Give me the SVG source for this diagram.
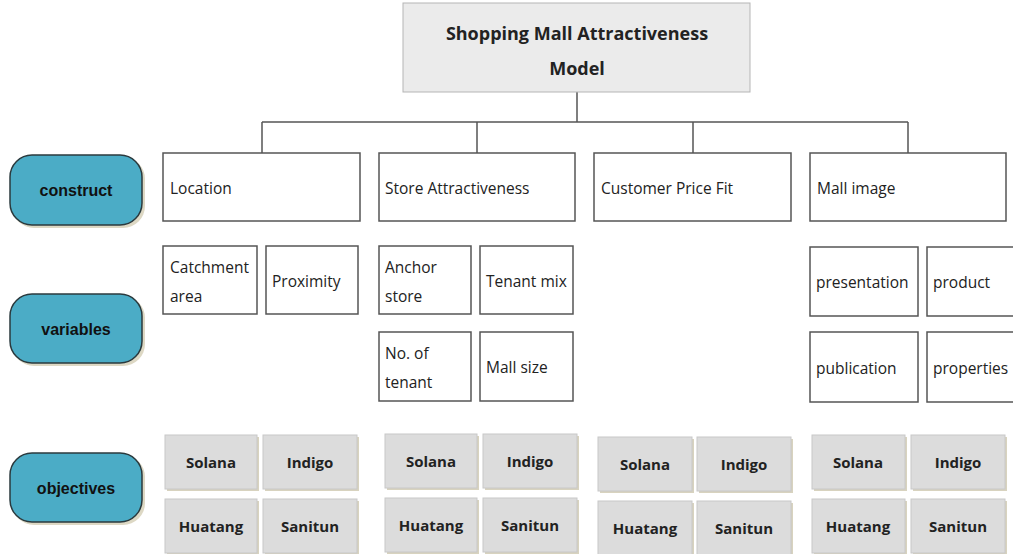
<svg xmlns="http://www.w3.org/2000/svg" width="1013" height="554" viewBox="0 0 1013 554">
<defs>
<style>
.bg{fill:#ffffff}
.box{fill:#ffffff;stroke:#555555;stroke-width:1.5}
.t{font-family:"Open Sans","Noto Sans",sans-serif;font-size:15.5px;fill:#222222}
.title{fill:#ebebeb;stroke:#b5b5b5;stroke-width:1}
.tt{font-family:"Open Sans","Noto Sans",sans-serif;font-size:18px;font-weight:bold;fill:#222222;text-anchor:middle}
.side{fill:#4bacc6;stroke:#2b3a3e;stroke-width:1.5}
.sideshadow{fill:#ddd8c4}
.st{font-family:"Liberation Sans",Arial,sans-serif;font-size:16px;font-weight:bold;fill:#111111;text-anchor:middle}
.obj{fill:#dcdcdc;stroke:#c8c8c8;stroke-width:1}
.objsh{fill:#d8d3bf}
.ot{font-family:"Open Sans","Noto Sans",sans-serif;font-size:15px;font-weight:bold;fill:#222222;text-anchor:middle}
.conn{fill:none;stroke:#555555;stroke-width:1.5}
</style>
</defs>
<rect class="bg" x="0" y="0" width="1013" height="554"/>

<g id="connectors">
<path class="conn" d="M577 92 V122 M262 122 H908 M262 122 V153 M477 122 V153 M693 122 V153 M908 122 V153"/>
</g>

<g id="title">
<rect class="title" x="403" y="3" width="347" height="89"/>
<text class="tt" x="577" y="40">Shopping Mall Attractiveness</text>
<text class="tt" x="577" y="75">Model</text>
</g>

<g id="side-construct">
<rect class="sideshadow" x="12" y="157" width="133" height="71" rx="22"/>
<rect class="side" x="10" y="155" width="132" height="70" rx="22"/>
<text class="st" x="76" y="196">construct</text>
</g>
<g id="side-variables">
<rect class="sideshadow" x="12" y="296" width="133" height="70" rx="22"/>
<rect class="side" x="10" y="294" width="132" height="69" rx="22"/>
<text class="st" x="76" y="335">variables</text>
</g>
<g id="side-objectives">
<rect class="sideshadow" x="12" y="455" width="133" height="70" rx="22"/>
<rect class="side" x="10" y="453" width="132" height="69" rx="22"/>
<text class="st" x="76" y="494">objectives</text>
</g>

<g id="construct-location">
<rect class="box" x="163" y="153" width="197" height="68"/>
<text class="t" x="170" y="194">Location</text>
</g>
<g id="construct-store">
<rect class="box" x="379" y="153" width="196" height="68"/>
<text class="t" x="385" y="194">Store Attractiveness</text>
</g>
<g id="construct-price">
<rect class="box" x="594" y="153" width="197" height="68"/>
<text class="t" x="601" y="194">Customer Price Fit</text>
</g>
<g id="construct-image">
<rect class="box" x="810" y="153" width="196" height="68"/>
<text class="t" x="817" y="194">Mall image</text>
</g>

<g id="var-catchment">
<rect class="box" x="163" y="246" width="94" height="68"/>
<text class="t" x="170" y="273">Catchment</text>
<text class="t" x="170" y="302">area</text>
</g>
<g id="var-proximity">
<rect class="box" x="266" y="246" width="92" height="68"/>
<text class="t" x="272" y="287">Proximity</text>
</g>
<g id="var-anchor">
<rect class="box" x="379" y="246" width="92" height="68"/>
<text class="t" x="385" y="273">Anchor</text>
<text class="t" x="385" y="302">store</text>
</g>
<g id="var-tenantmix">
<rect class="box" x="480" y="246" width="93" height="68"/>
<text class="t" x="486" y="287">Tenant mix</text>
</g>
<g id="var-notenant">
<rect class="box" x="379" y="332" width="92" height="69"/>
<text class="t" x="385" y="359">No. of</text>
<text class="t" x="385" y="388">tenant</text>
</g>
<g id="var-mallsize">
<rect class="box" x="480" y="332" width="93" height="69"/>
<text class="t" x="486" y="373">Mall size</text>
</g>
<g id="var-presentation">
<rect class="box" x="810" y="247" width="108" height="69"/>
<text class="t" x="816" y="288">presentation</text>
</g>
<g id="var-product">
<rect class="box" x="927" y="247" width="92" height="69"/>
<text class="t" x="933" y="288">product</text>
</g>
<g id="var-publication">
<rect class="box" x="810" y="332" width="108" height="70"/>
<text class="t" x="816" y="374">publication</text>
</g>
<g id="var-properties">
<rect class="box" x="927" y="332" width="92" height="70"/>
<text class="t" x="933" y="374">properties</text>
</g>

<g id="obj-loc-solana"><rect class="objsh" x="167" y="437" width="92" height="54"/><rect class="obj" x="165" y="435" width="92" height="54"/><text class="ot" x="211" y="468">Solana</text></g>
<g id="obj-loc-indigo"><rect class="objsh" x="265" y="437" width="94" height="54"/><rect class="obj" x="263" y="435" width="94" height="54"/><text class="ot" x="310" y="468">Indigo</text></g>
<g id="obj-loc-huatang"><rect class="objsh" x="167" y="501" width="92" height="54"/><rect class="obj" x="165" y="499" width="92" height="54"/><text class="ot" x="211" y="532">Huatang</text></g>
<g id="obj-loc-sanitun"><rect class="objsh" x="265" y="501" width="94" height="54"/><rect class="obj" x="263" y="499" width="94" height="54"/><text class="ot" x="310" y="532">Sanitun</text></g>

<g id="obj-store-solana"><rect class="objsh" x="387" y="436" width="92" height="54"/><rect class="obj" x="385" y="434" width="92" height="54"/><text class="ot" x="431" y="467">Solana</text></g>
<g id="obj-store-indigo"><rect class="objsh" x="485" y="436" width="94" height="54"/><rect class="obj" x="483" y="434" width="94" height="54"/><text class="ot" x="530" y="467">Indigo</text></g>
<g id="obj-store-huatang"><rect class="objsh" x="387" y="500" width="92" height="54"/><rect class="obj" x="385" y="498" width="92" height="54"/><text class="ot" x="431" y="531">Huatang</text></g>
<g id="obj-store-sanitun"><rect class="objsh" x="485" y="500" width="94" height="54"/><rect class="obj" x="483" y="498" width="94" height="54"/><text class="ot" x="530" y="531">Sanitun</text></g>

<g id="obj-price-solana"><rect class="objsh" x="600" y="439" width="94" height="54"/><rect class="obj" x="598" y="437" width="94" height="54"/><text class="ot" x="645" y="470">Solana</text></g>
<g id="obj-price-indigo"><rect class="objsh" x="699" y="439" width="94" height="54"/><rect class="obj" x="697" y="437" width="94" height="54"/><text class="ot" x="744" y="470">Indigo</text></g>
<g id="obj-price-huatang"><rect class="objsh" x="600" y="503" width="94" height="54"/><rect class="obj" x="598" y="501" width="94" height="54"/><text class="ot" x="645" y="534">Huatang</text></g>
<g id="obj-price-sanitun"><rect class="objsh" x="699" y="503" width="94" height="54"/><rect class="obj" x="697" y="501" width="94" height="54"/><text class="ot" x="744" y="534">Sanitun</text></g>

<g id="obj-image-solana"><rect class="objsh" x="814" y="437" width="93" height="54"/><rect class="obj" x="812" y="435" width="93" height="54"/><text class="ot" x="858" y="468">Solana</text></g>
<g id="obj-image-indigo"><rect class="objsh" x="913" y="437" width="94" height="54"/><rect class="obj" x="911" y="435" width="94" height="54"/><text class="ot" x="958" y="468">Indigo</text></g>
<g id="obj-image-huatang"><rect class="objsh" x="814" y="501" width="93" height="54"/><rect class="obj" x="812" y="499" width="93" height="54"/><text class="ot" x="858" y="532">Huatang</text></g>
<g id="obj-image-sanitun"><rect class="objsh" x="913" y="501" width="94" height="54"/><rect class="obj" x="911" y="499" width="94" height="54"/><text class="ot" x="958" y="532">Sanitun</text></g>
</svg>
